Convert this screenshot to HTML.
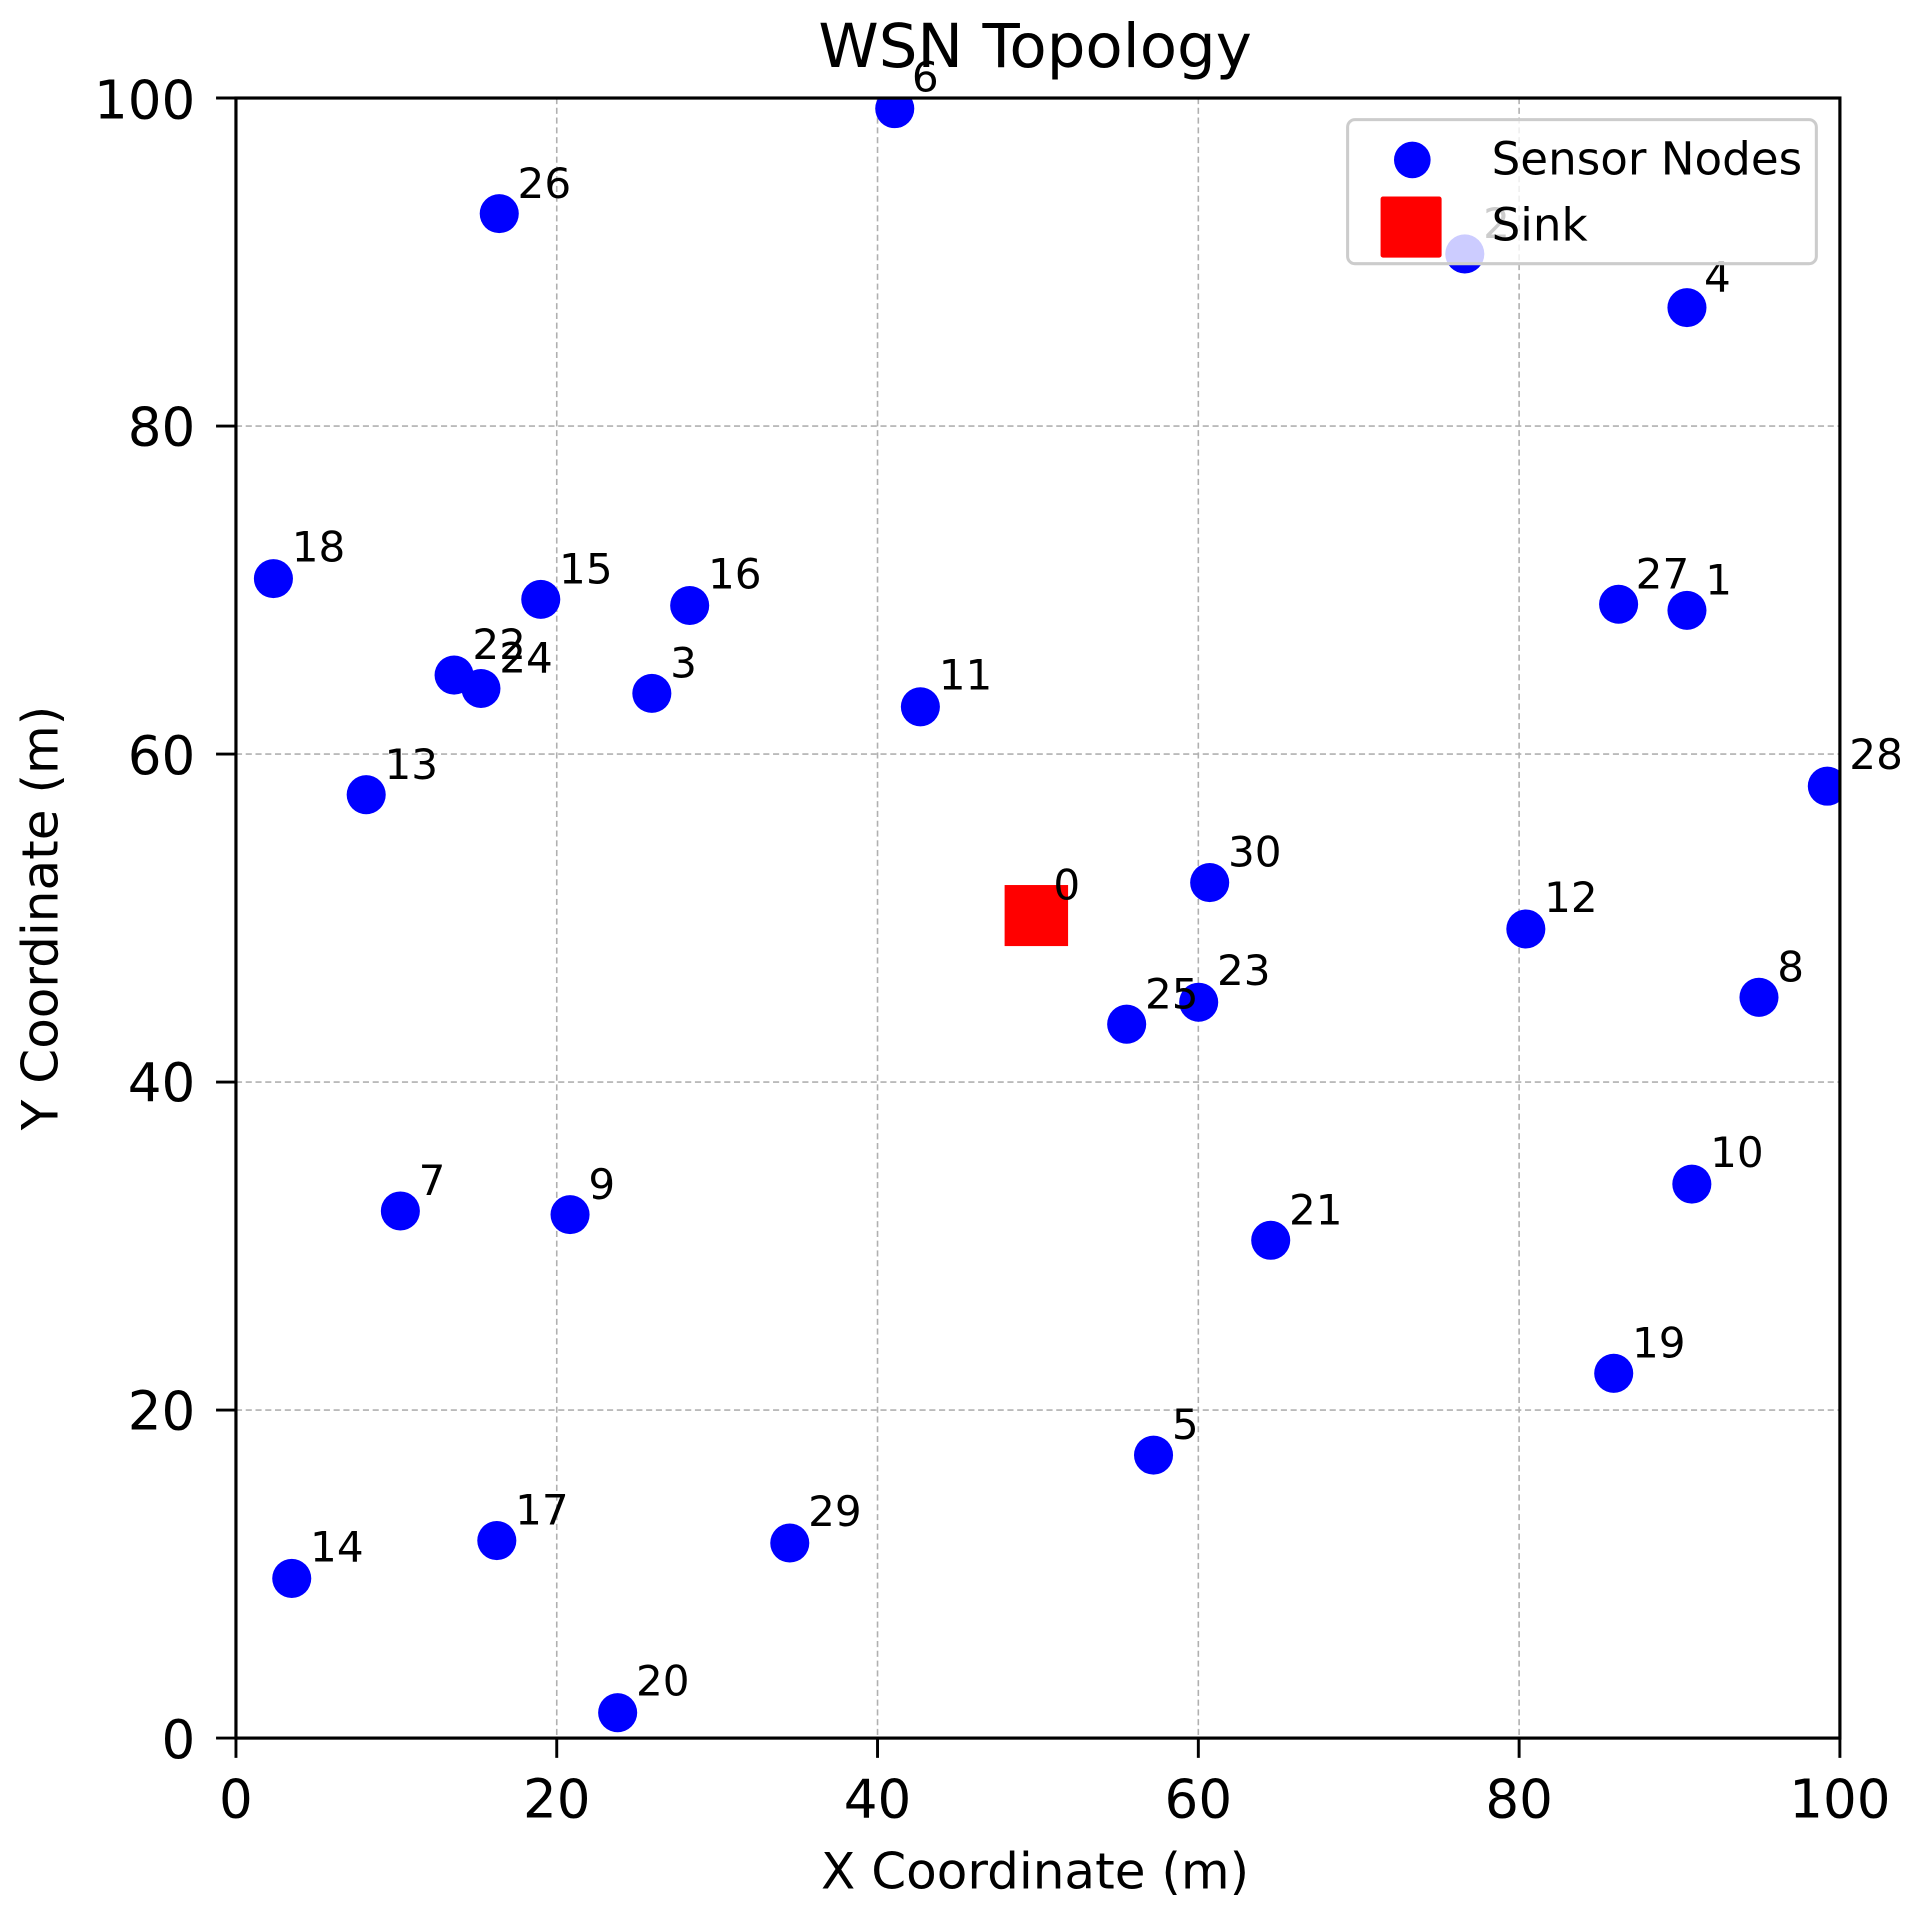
<!DOCTYPE html>
<html><head><meta charset="utf-8"><style>html,body{margin:0;padding:0;background:#fff}svg{display:block}</style></head>
<body>
<svg width="1914" height="1919" viewBox="0 0 1568 1572" preserveAspectRatio="none" xmlns="http://www.w3.org/2000/svg" font-family="'DejaVu Sans','Liberation Sans',sans-serif">
<defs><clipPath id="c"><rect x="193.3" y="80.3" width="1314" height="1343.5"/></clipPath></defs>
<rect width="1568" height="1572" fill="#fff"/>
<g stroke="#b0b0b0" stroke-width="1.3" stroke-dasharray="5,3">
<line x1="456.1" y1="80.3" x2="456.1" y2="1423.8"/><line x1="718.9" y1="80.3" x2="718.9" y2="1423.8"/><line x1="981.7" y1="80.3" x2="981.7" y2="1423.8"/><line x1="1244.5" y1="80.3" x2="1244.5" y2="1423.8"/>
<line x1="193.3" y1="1155.1" x2="1507.3" y2="1155.1"/><line x1="193.3" y1="886.4" x2="1507.3" y2="886.4"/><line x1="193.3" y1="617.7" x2="1507.3" y2="617.7"/><line x1="193.3" y1="349" x2="1507.3" y2="349"/>
</g>
<g clip-path="url(#c)" fill="#0000ff">
<circle cx="733" cy="89" r="16"/><circle cx="409" cy="175" r="16"/><circle cx="1200" cy="208" r="16"/><circle cx="1382" cy="252" r="16"/>
<circle cx="224" cy="474" r="16"/><circle cx="443" cy="491" r="16"/><circle cx="565" cy="496" r="16"/><circle cx="1326" cy="495" r="16"/>
<circle cx="1382" cy="500" r="16"/><circle cx="372" cy="553" r="16"/><circle cx="394" cy="564" r="16"/><circle cx="534" cy="568" r="16"/>
<circle cx="754" cy="579" r="16"/><circle cx="300" cy="651" r="16"/><circle cx="1497" cy="644" r="16"/><circle cx="991" cy="723" r="16"/>
<circle cx="1250" cy="761" r="16"/><circle cx="1441" cy="817" r="16"/><circle cx="923" cy="839" r="16"/><circle cx="982" cy="821" r="16"/>
<circle cx="1386" cy="970" r="16"/><circle cx="328" cy="992" r="16"/><circle cx="467" cy="995" r="16"/><circle cx="1041" cy="1016" r="16"/>
<circle cx="1322" cy="1125" r="16"/><circle cx="945" cy="1192" r="16"/><circle cx="407" cy="1262" r="16"/><circle cx="647" cy="1264" r="16"/>
<circle cx="239" cy="1293" r="16"/><circle cx="506" cy="1403" r="16"/>
<rect x="823" y="725" width="52" height="50" fill="#ff0000"/>
</g>
<g font-size="34.5" fill="#000">
<text x="747" y="75">6</text><text x="424" y="162">26</text><text x="1215" y="195">2</text><text x="1396" y="239">4</text>
<text x="239" y="460">18</text><text x="458" y="478">15</text><text x="580" y="482">16</text><text x="1340" y="482">27</text>
<text x="1397" y="487">1</text><text x="387" y="540">22</text><text x="409" y="551">24</text><text x="549" y="555">3</text>
<text x="769" y="565">11</text><text x="315" y="638">13</text><text x="1515" y="630">28</text><text x="1006" y="710">30</text>
<text x="863" y="737">0</text><text x="1265" y="747">12</text><text x="1456" y="804">8</text><text x="938" y="826">25</text>
<text x="997" y="807">23</text><text x="1401" y="956">10</text><text x="343" y="979">7</text><text x="482" y="982">9</text>
<text x="1056" y="1003">21</text><text x="1337" y="1112">19</text><text x="960" y="1179">5</text><text x="422" y="1249">17</text>
<text x="662" y="1250">29</text><text x="254" y="1279">14</text><text x="521" y="1389">20</text>
</g>
<rect x="1104" y="98" width="384" height="118" rx="6" fill="#fff" fill-opacity="0.8" stroke="#cccccc" stroke-width="2.5"/>
<circle cx="1157" cy="131" r="15" fill="#0000ff"/>
<rect x="1131" y="161" width="50" height="50" rx="2" fill="#ff0000"/>
<text x="1222" y="143" font-size="37">Sensor Nodes</text>
<text x="1222" y="197" font-size="37">Sink</text>
<rect x="193.3" y="80.3" width="1314" height="1343.5" fill="none" stroke="#000" stroke-width="2.6"/>
<g stroke="#000" stroke-width="2.4">
<line x1="193.3" y1="1423.8" x2="193.3" y2="1440"/><line x1="456.1" y1="1423.8" x2="456.1" y2="1440"/><line x1="718.9" y1="1423.8" x2="718.9" y2="1440"/><line x1="981.7" y1="1423.8" x2="981.7" y2="1440"/><line x1="1244.5" y1="1423.8" x2="1244.5" y2="1440"/><line x1="1507.3" y1="1423.8" x2="1507.3" y2="1440"/>
<line x1="177" y1="1423.8" x2="193.3" y2="1423.8"/><line x1="177" y1="1155.1" x2="193.3" y2="1155.1"/><line x1="177" y1="886.4" x2="193.3" y2="886.4"/><line x1="177" y1="617.7" x2="193.3" y2="617.7"/><line x1="177" y1="349" x2="193.3" y2="349"/><line x1="177" y1="80.3" x2="193.3" y2="80.3"/>
</g>
<g font-size="43.5" text-anchor="middle">
<text x="193.3" y="1489">0</text><text x="456.1" y="1489">20</text><text x="718.9" y="1489">40</text><text x="981.7" y="1489">60</text><text x="1244.5" y="1489">80</text><text x="1507.3" y="1489">100</text>
</g>
<g font-size="43.5" text-anchor="end">
<text x="160" y="1440">0</text><text x="160" y="1171">20</text><text x="160" y="902">40</text><text x="160" y="634">60</text><text x="160" y="365">80</text><text x="160" y="97">100</text>
</g>
<text x="848" y="1547" font-size="41" text-anchor="middle">X Coordinate (m)</text>
<text transform="translate(47,752) rotate(-90)" font-size="41" text-anchor="middle">Y Coordinate (m)</text>
<text x="848" y="55" font-size="50" text-anchor="middle">WSN Topology</text>
</svg>
</body></html>
